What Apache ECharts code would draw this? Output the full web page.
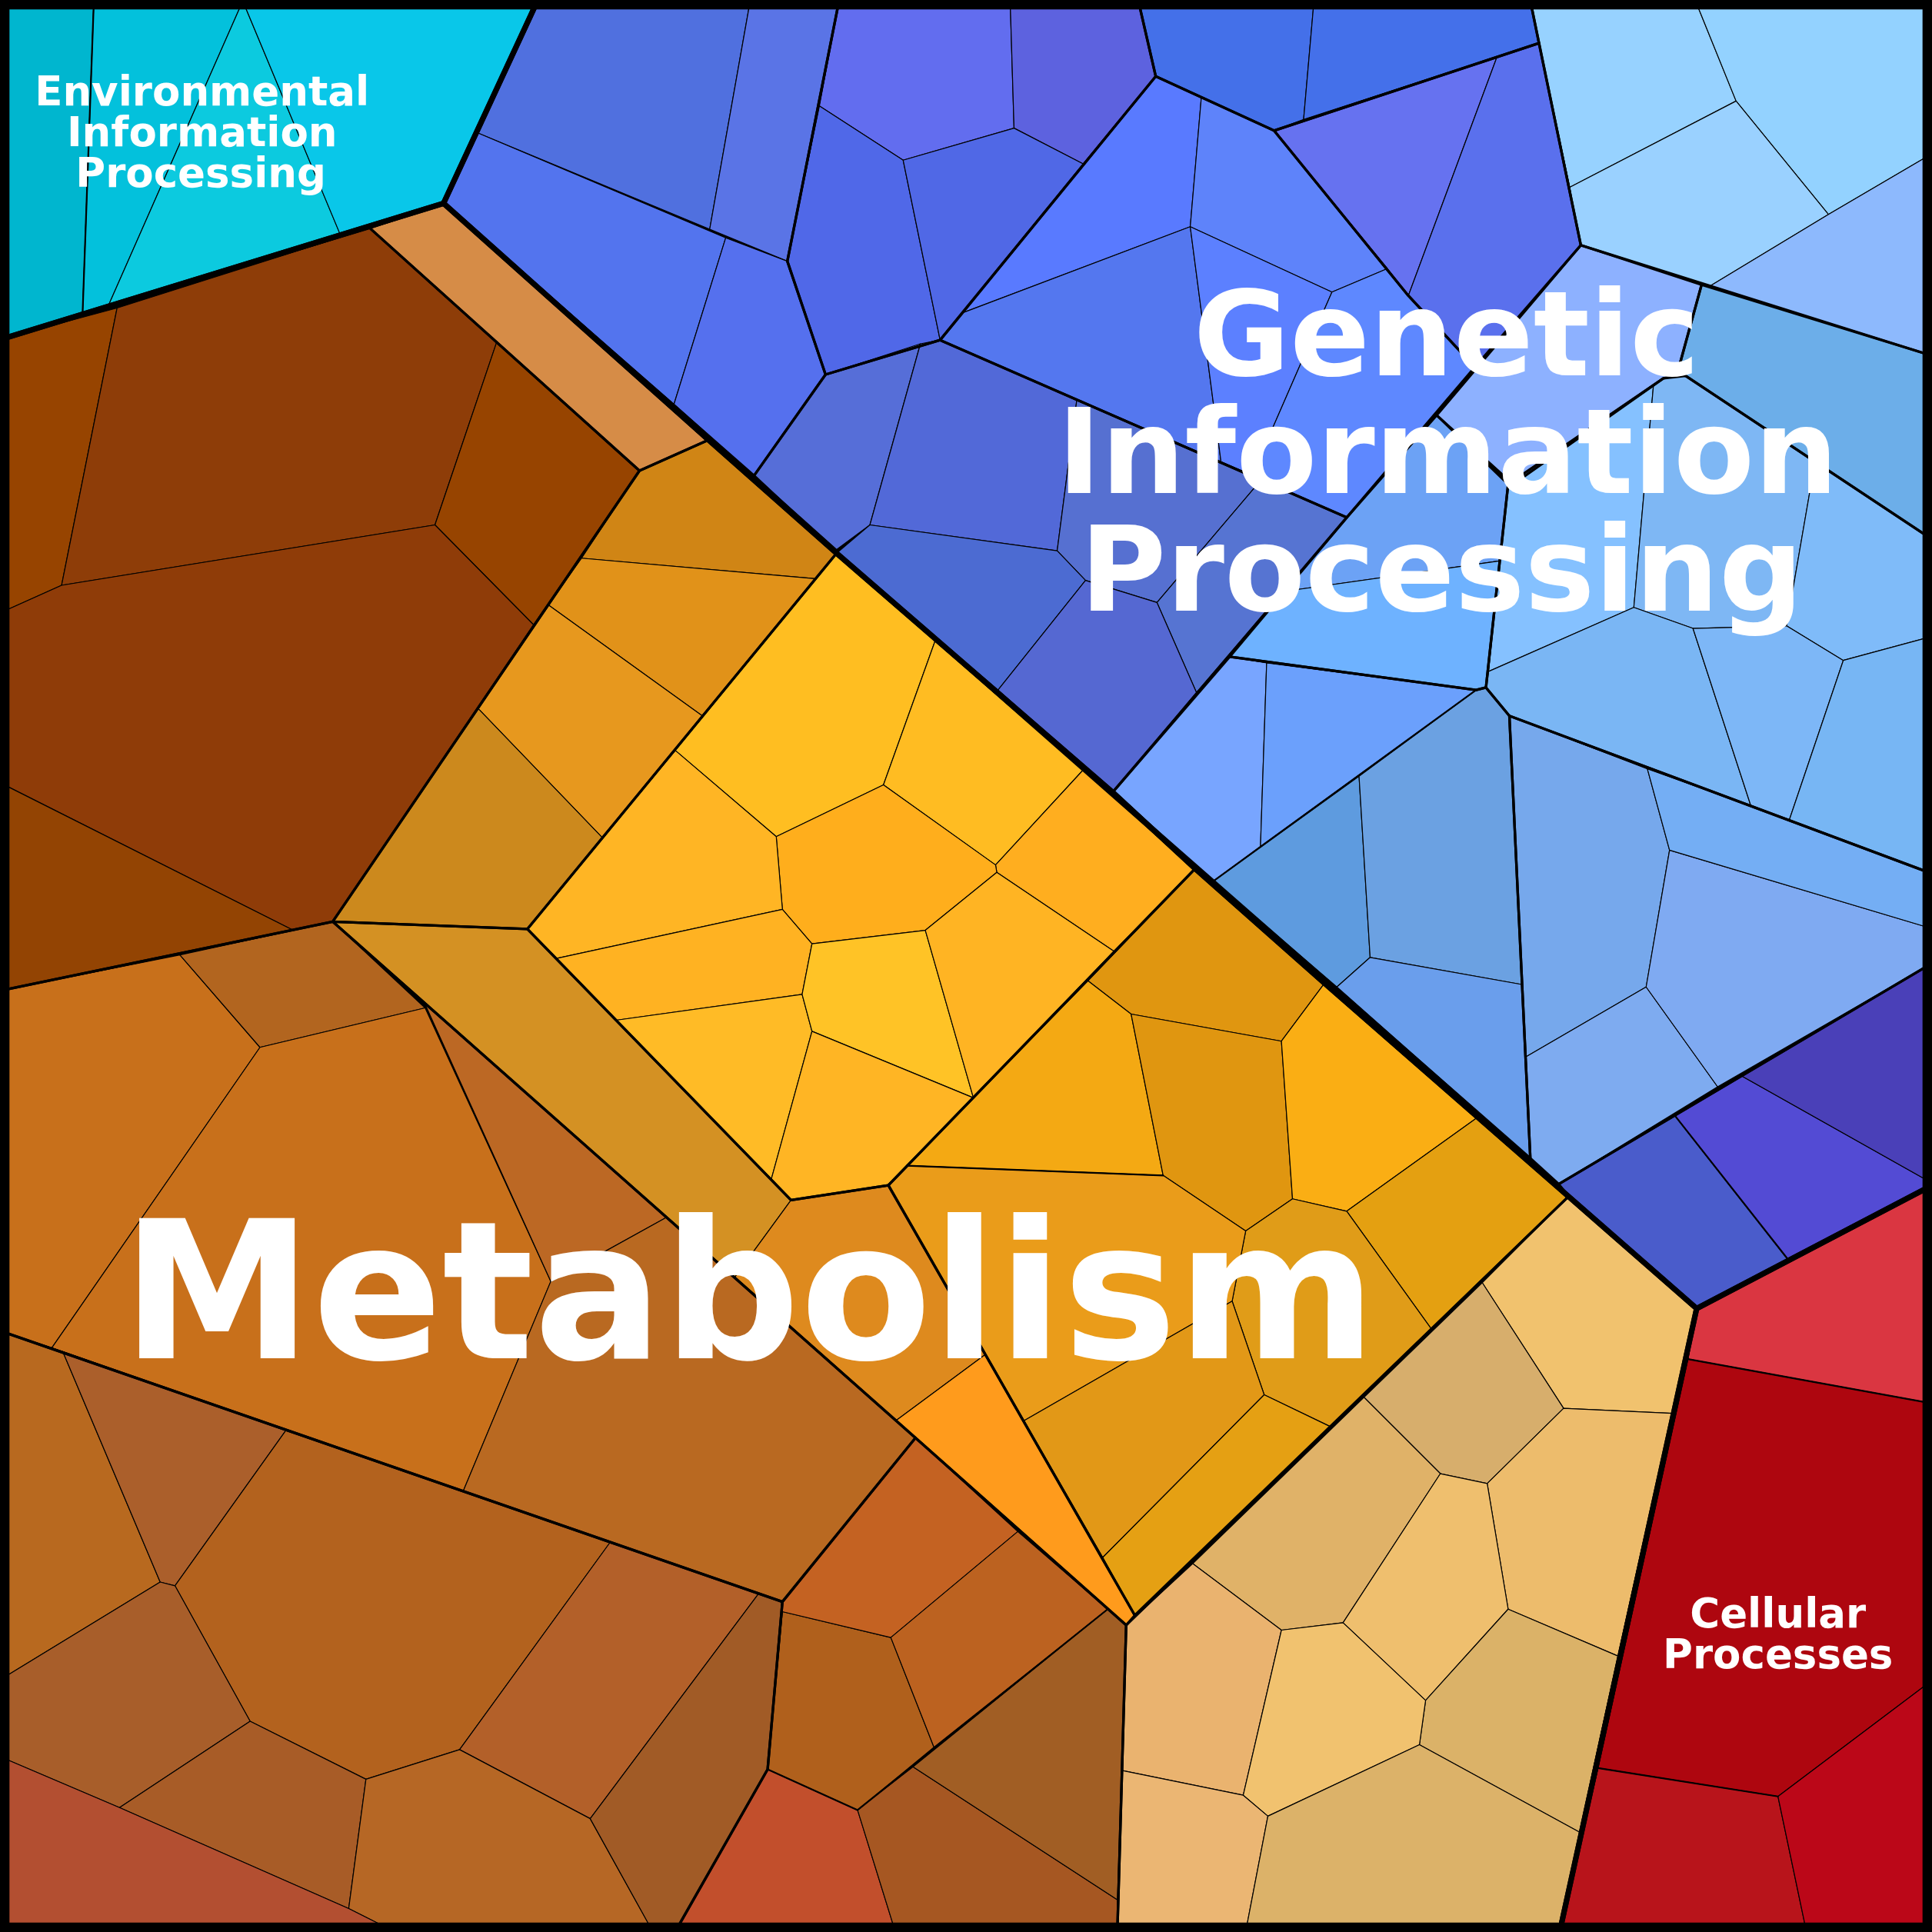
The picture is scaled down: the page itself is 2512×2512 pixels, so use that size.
<!DOCTYPE html>
<html><head><meta charset="utf-8">
<style>html,body{margin:0;padding:0;background:#000}#c{width:2512px;height:2512px}</style>
<script src="https://cdn.jsdelivr.net/npm/echarts@6/dist/echarts.min.js"></script>
</head><body><div id="c"></div>
<script>
const environmentalCells = [
 ['#00B6CF',[[8,8],[76,8],[67,255],[8,274]]],
 ['#03C1DC',[[76,8],[195,8],[88,248],[67,255]]],
 ['#0CCADF',[[195,8],[199,8],[276,190],[88,248]]],
 ['#09C7E9',[[199,8],[434,8],[360,165],[276,190]]]
];
const brownCells = [
 ['#974400',[[8,274],[95,250],[50,475],[8,495]]],
 ['#8E3D08',[[95,250],[300,185],[403,278],[353,426],[50,475]]],
 ['#974400',[[403,278],[519,382],[433,507],[353,426]]],
 ['#8F3C08',[[8,495],[50,475],[353,426],[433,507],[270,748],[238,755],[8,638]]],
 ['#934403',[[8,638],[238,755],[8,803]]],
 ['#D68C47',[[300,185],[360,165],[575,357],[519,382]]]
];
const goldRingCells = [
 ['#D08515',[[575,357],[679,449],[665,470],[472,453],[519,382]]],
 ['#E19219',[[472,453],[665,470],[570,581],[445,491]]],
 ['#E7981E',[[445,491],[570,581],[489,680],[388,575]]],
 ['#CC891D',[[388,575],[489,680],[428,754],[270,748]]],
 ['#D49123',[[270,748],[428,754],[642,974],[596,1037]]],
 ['#DE8A1E',[[642,974],[721,962],[800,1099],[727,1153],[596,1037]]],
 ['#FF9B1C',[[727,1153],[800,1099],[921,1311],[914,1319],[743,1167]]]
];
const yellowCells = [
 ['#FFBE21',[[679,449],[759,520],[717,637],[630,679],[548,609]]],
 ['#FFBC22',[[759,520],[879,625],[808,702],[717,637]]],
 ['#FFAE1F',[[879,625],[970,705],[904,772],[809,708],[808,702]]],
 ['#FFAE1C',[[630,679],[717,637],[808,702],[809,708],[751,755],[659,766],[635,738]]],
 ['#FFB524',[[548,609],[630,679],[635,738],[451,778],[428,754]]],
 ['#FFB222',[[451,778],[635,738],[659,766],[651,807],[500,828]]],
 ['#FFBB26',[[500,828],[651,807],[659,837],[626,957]]],
 ['#FFC326',[[659,766],[751,755],[790,891],[659,837],[651,807]]],
 ['#FFB423',[[751,755],[809,708],[904,772],[790,891]]],
 ['#FFB524',[[659,837],[790,891],[720,962],[642,974],[626,957]]]
];
const goldRightCells = [
 ['#E09610',[[970,705],[1075,798],[1040,845],[918,823],[883,796]]],
 ['#F4A913',[[883,796],[918,823],[944,954],[736,946]]],
 ['#E09610',[[918,823],[1040,845],[1049,973],[1011,999],[944,954]]],
 ['#FAAE14',[[1075,798],[1199,907],[1093,983],[1049,973],[1040,845]]],
 ['#E4A011',[[1199,907],[1273,971],[1162,1079],[1093,983]]],
 ['#E09C18',[[1011,999],[1049,973],[1093,983],[1162,1079],[1080,1158],[1026,1132],[1000,1056]]],
 ['#EA9C1A',[[721,962],[736,946],[944,954],[1011,999],[1000,1056],[831,1153]]],
 ['#E29817',[[831,1153],[1000,1056],[1026,1132],[895,1264]]],
 ['#E5A013',[[1026,1132],[1080,1158],[921,1311],[895,1264]]]
];
const lowerBrownCells = [
 ['#C8701B',[[8,803],[146,775],[211,850],[42,1094],[8,1082]]],
 ['#B2651F',[[146,775],[270,748],[345,818],[211,850]]],
 ['#C8701B',[[211,850],[345,818],[447,1040],[376,1210],[42,1094]]],
 ['#BC6824',[[345,815],[541,988],[447,1040]]],
 ['#B96921',[[447,1040],[541,988],[743,1167],[635,1300],[376,1210]]],
 ['#B8691F',[[8,1082],[51,1097],[130,1284],[8,1360]]],
 ['#AB5F2B',[[51,1097],[232,1161],[142,1287],[130,1284]]],
 ['#B3621E',[[232,1161],[495,1252],[373,1420],[297,1444],[203,1397],[142,1287]]],
 ['#B36029',[[495,1252],[616,1293],[479,1476],[373,1420]]],
 ['#A85E2A',[[8,1360],[130,1284],[142,1287],[203,1397],[97,1467],[8,1428]]],
 ['#A85C27',[[97,1467],[203,1397],[297,1444],[283,1549]]],
 ['#B66725',[[297,1444],[373,1420],[479,1476],[527,1560],[310,1560],[283,1549]]],
 ['#A15B26',[[616,1293],[635,1300],[623,1436],[551,1560],[527,1560],[479,1476]]],
 ['#B34F31',[[8,1428],[97,1467],[283,1549],[310,1560],[8,1560]]],
 ['#C24F2C',[[623,1436],[696,1469],[725,1560],[551,1560]]],
 ['#A65722',[[696,1469],[741,1434],[907,1542],[907,1560],[725,1560]]],
 ['#A15E24',[[741,1434],[899,1306],[914,1319],[907,1542]]],
 ['#B0601C',[[635,1308],[723,1329],[758,1418],[696,1469],[623,1436]]],
 ['#C46222',[[743,1167],[826,1243],[723,1329],[635,1308],[635,1300]]],
 ['#BC6220',[[826,1243],[899,1306],[758,1418],[723,1329]]]
];
const tanCells = [
 ['#F1C26E',[[1273,971],[1377,1062],[1357,1147],[1269,1143],[1203,1041]]],
 ['#D7AE6C',[[1203,1041],[1269,1143],[1207,1204],[1169,1196],[1107,1134]]],
 ['#EDBC6C',[[1269,1143],[1357,1147],[1313,1344],[1224,1306],[1207,1204]]],
 ['#E0B268',[[1107,1134],[1169,1196],[1090,1317],[1040,1323],[968,1269]]],
 ['#EFBF6E',[[1169,1196],[1207,1204],[1224,1306],[1157,1380],[1090,1317]]],
 ['#DBB268',[[1224,1306],[1313,1344],[1282,1487],[1152,1416],[1157,1380]]],
 ['#EAB36F',[[968,1269],[1040,1323],[1009,1457],[911,1437],[914,1319]]],
 ['#F1C26F',[[1040,1323],[1090,1317],[1157,1380],[1152,1416],[1029,1474],[1009,1457]]],
 ['#EBB673',[[911,1437],[1009,1457],[1029,1474],[1012,1560],[907,1560]]],
 ['#DCB269',[[1029,1474],[1152,1416],[1282,1487],[1267,1560],[1012,1560]]]
];
const cellularCells = [
 ['#DA3641',[[1377,1062],[1562,965],[1562,1138],[1370,1103]]],
 ['#AE060F',[[1370,1103],[1562,1138],[1562,1368],[1443,1458],[1297,1435]]],
 ['#B8141B',[[1297,1435],[1443,1458],[1465,1560],[1267,1560]]],
 ['#BB0718',[[1443,1458],[1562,1368],[1562,1560],[1465,1560]]]
];
const geneticTopCells = [
 ['#5070DF',[[434,8],[608,8],[576,186],[388,108]]],
 ['#5A74E6',[[608,8],[680,8],[639,212],[576,186]]],
 ['#5374EE',[[388,108],[589,193],[547,328],[360,165]]],
 ['#5570EE',[[589,193],[639,212],[670,304],[612,386],[547,328]]],
 ['#626DEF',[[680,8],[820,8],[823,104],[733,130],[665,86]]],
 ['#5D62DF',[[820,8],[925,8],[938,62],[879,133],[823,104]]],
 ['#5068E8',[[665,86],[733,130],[763,276],[670,304],[639,212]]],
 ['#5068E6',[[733,130],[823,104],[879,133],[763,276]]],
 ['#4470E9',[[925,8],[1066,8],[1058,97],[1034,106],[938,62]]],
 ['#4470EA',[[1066,8],[1243,8],[1249,35],[1058,97]]],
 ['#97D2FF',[[1243,8],[1378,8],[1409,82],[1274,152]]],
 ['#93D2FF',[[1378,8],[1562,8],[1562,128],[1484,174],[1409,82]]],
 ['#9AD1FF',[[1274,152],[1409,82],[1484,174],[1388,232],[1282,199]]],
 ['#8DB9FD',[[1388,232],[1484,174],[1562,128],[1562,287]]],
 ['#6672F0',[[1034,106],[1215,46],[1143,240]]],
 ['#5A70ED',[[1215,46],[1249,35],[1283,199],[1197,298],[1143,240]]]
];
const geneticMidCells = [
 ['#597AFF',[[938,62],[975,79],[966,184],[781,254]]],
 ['#5E83FA',[[975,79],[1034,106],[1126,218],[1081,237],[966,184]]],
 ['#5477EF',[[763,276],[781,254],[966,184],[991,375]]],
 ['#5C80FF',[[966,184],[1081,237],[1016,386],[991,375]]],
 ['#5E88FF',[[1081,237],[1126,218],[1143,240],[1197,298],[1093,420],[1016,386]]],
 ['#566ED8',[[670,304],[747,279],[706,426],[679,446],[612,386]]],
 ['#5269D8',[[747,279],[763,276],[874,324],[858,447],[706,426]]],
 ['#5670D1',[[874,324],[1024,389],[939,489],[881,471],[858,447]]],
 ['#5674D2',[[1024,389],[1093,420],[971,562],[939,489]]],
 ['#4C6BD2',[[706,426],[858,447],[881,471],[810,560],[679,449]]],
 ['#5568D2',[[881,471],[939,489],[971,562],[903,643],[810,560]]],
 ['#8DB1FF',[[1283,199],[1381,231],[1361,304],[1350,307],[1228,393],[1166,337]]],
 ['#6CA2F5',[[1093,420],[1166,337],[1224,393],[1219,455],[1042,480]]],
 ['#6EB2FF',[[1042,480],[1219,455],[1206,558],[1198,560],[998,533]]],
 ['#6CAEE9',[[1381,231],[1562,287],[1562,434],[1368,305],[1361,304]]]
];
const geneticLowCells = [
 ['#85C1FF',[[1224,393],[1342,312],[1326,493],[1208,545]]],
 ['#7EB7F4',[[1342,312],[1350,307],[1368,305],[1473,375],[1450,508],[1374,510],[1326,493]]],
 ['#7FBBF9',[[1473,375],[1562,434],[1562,518],[1496,536],[1450,508]]],
 ['#7AB6F4',[[1208,545],[1326,493],[1374,510],[1421,654],[1225,581],[1206,558]]],
 ['#7DB7F7',[[1374,510],[1450,508],[1496,536],[1452,666],[1421,654]]],
 ['#77B6F4',[[1496,536],[1562,518],[1562,707],[1452,666]]],
 ['#78A5FF',[[998,533],[1028,538],[1023,687],[985,715],[903,643]]],
 ['#6BA0FC',[[1028,538],[1198,560],[1023,687]]],
 ['#5E9BDF',[[985,715],[1103,630],[1112,777],[1085,801]]],
 ['#6BA1E2',[[1103,630],[1198,560],[1206,558],[1225,581],[1235,799],[1112,777]]],
 ['#6A9EEC',[[1112,777],[1235,799],[1242,940],[1085,801]]],
 ['#76A8EC',[[1225,581],[1337,624],[1355,690],[1336,801],[1238,858]]],
 ['#7EABF0',[[1238,858],[1336,801],[1394,882],[1265,961],[1242,940]]],
 ['#7FAAF2',[[1355,690],[1562,752],[1562,785],[1394,882],[1336,801]]],
 ['#74AEF4',[[1337,624],[1421,654],[1452,666],[1562,707],[1562,752],[1355,690]]],
 ['#4A5CCB',[[1265,961],[1359,905],[1451,1022],[1377,1062],[1273,971]]],
 ['#534BD4',[[1359,905],[1413,873],[1562,957],[1562,965],[1451,1022]]],
 ['#4A40B8',[[1413,873],[1562,785],[1562,957]]]
];
const subPolylines = [
 [[76,8],[67,255]],
 [[736,946],[944,954]],
 [[985,715],[1198,560]],
 [[1562,1138],[1370,1103]],
 [[1359,905],[1451,1022]],
 [[696,1469],[899,1306]],
 [[623,1436],[696,1469]],
 [[1297,1435],[1443,1458]]
];
const groupOutlines = [
 [[8,274],[300,185],[519,382],[270,748],[8,803]],
 [[300,185],[360,165],[575,357],[519,382]],
 [[519,382],[575,357],[679,449],[428,754],[270,748]],
 [[270,748],[428,754],[642,974],[721,962],[921,1311],[914,1319],[743,1167]],
 [[679,449],[970,705],[721,962],[642,974],[428,754]],
 [[970,705],[1273,971],[921,1311],[721,962]],
 [[270,748],[743,1167],[635,1300],[8,1082],[8,803]],
 [[8,1082],[635,1300],[623,1436],[551,1560],[8,1560]],
 [[743,1167],[914,1319],[907,1560],[551,1560],[623,1436],[635,1300]],
 [[1273,971],[1377,1062],[1267,1560],[907,1560],[914,1319]],
 [[434,8],[680,8],[639,212],[670,304],[612,386],[360,165]],
 [[680,8],[925,8],[938,62],[763,276],[670,304],[639,212]],
 [[925,8],[1243,8],[1249,35],[1034,106],[938,62]],
 [[1243,8],[1562,8],[1562,287],[1283,199]],
 [[938,62],[1034,106],[1143,240],[1197,298],[1093,420],[763,276]],
 [[1034,106],[1249,35],[1283,199],[1197,298],[1143,240]],
 [[763,276],[1093,420],[903,643],[679,449],[612,386],[670,304]],
 [[1283,199],[1381,231],[1361,304],[1350,307],[1228,393],[1166,337]],
 [[1166,337],[1224,393],[1206,558],[1198,560],[998,533],[1093,420]],
 [[1381,231],[1562,287],[1562,434],[1368,305],[1361,304]],
 [[1224,393],[1350,307],[1368,305],[1562,434],[1562,707],[1225,581],[1206,558]],
 [[998,533],[1198,560],[1206,558],[1225,581],[1242,940],[903,643]],
 [[1225,581],[1562,707],[1562,785],[1265,961],[1242,940]],
 [[1265,961],[1562,785],[1562,965],[1377,1062],[1273,971]]
];
const topOutlines = [
 [[8,274],[360,165],[434,8],[8,8]],
 [[360,165],[575,357],[679,449],[903,643],[970,705],[1075,798],[1273,971],[1377,1062],[1267,1560],[8,1560],[8,274]],
 [[434,8],[1562,8],[1562,965],[1377,1062],[1273,971],[1075,798],[970,705],[903,643],[679,449],[575,357],[360,165]],
 [[1562,965],[1377,1062],[1267,1560],[1562,1560]]
];
const frameOutline = [[[3.75,3.75],[1564.25,3.75],[1564.25,1564.25],[3.75,1564.25]]];
const labelLines = [
 ['Environmental',164,77,53],['Information',164,110,53],['Processing',163,143,53],
 ['Genetic',1174,280,153],['Information',1175,375,153],['Processing',1170,471,153],
 ['Cellular',1443,1312,53],['Processes',1443,1345,53],
 ['Metabolism',608,1062,249]
];

const allCells = [].concat(environmentalCells, brownCells, goldRingCells, yellowCells, goldRightCells,
  lowerBrownCells, tanCells, cellularCells, geneticTopCells, geneticMidCells, geneticLowCells);

// Vertices read as lying on the outer edge are pushed under the black frame.
function toFrame(v) { return v === 8 ? 5.5 : (v === 1560 || v === 1562) ? 1562.5 : v; }
function polySeries(items, getPts, getFill, width, open) {
  return {
    type: 'custom', coordinateSystem: 'cartesian2d', clip: false, silent: true, animation: false,
    data: items.map((_, i) => [i]),
    renderItem: function (params, api) {
      const it = items[api.value(0)];
      const pts = getPts(it).map(p => api.coord([toFrame(p[0]), toFrame(p[1])]));
      const fill = getFill(it);
      return {
        type: open ? 'polyline' : 'polygon',
        shape: { points: pts },
        style: { fill: fill || 'none', stroke: '#000', lineWidth: width, lineJoin: 'round', lineCap: 'round' }
      };
    }
  };
}
const chart = echarts.init(document.getElementById('c'), null, { width: 2512, height: 2512, renderer: 'canvas' });
chart.setOption({
  animation: false,
  backgroundColor: '#000',
  grid: { left: 0, right: 0, top: 0, bottom: 0 },
  xAxis: { type: 'value', min: 0, max: 1568, show: false },
  yAxis: { type: 'value', min: 0, max: 1568, inverse: true, show: false },
  series: [
    polySeries(allCells, c => c[1], c => c[0], 1.2),
    polySeries(subPolylines, c => c, () => null, 2.2, true),
    polySeries(groupOutlines, c => c, () => null, 3.3),
    polySeries(topOutlines, c => c, () => null, 7),
    {
      type: 'custom', coordinateSystem: 'cartesian2d', clip: false, silent: true, animation: false,
      data: [[0]],
      renderItem: function (params, api) {
        return { type: 'polygon', shape: { points: frameOutline[0].map(p => api.coord(p)) },
          style: { fill: 'none', stroke: '#000', lineWidth: 12, lineJoin: 'miter' } };
      }
    },
    {
      type: 'scatter', symbolSize: 0, silent: true, animation: false, z: 10, itemStyle: { opacity: 1 },
      data: labelLines.map(l => ({
        value: [l[1], l[2]],
        itemStyle: { opacity: 1 },
        label: {
          show: true, position: 'inside', formatter: l[0], align: 'center', verticalAlign: 'middle', opacity: 1,
          fontFamily: 'DejaVu Sans', fontWeight: 'bold', fontSize: l[3], color: '#fff',
          textShadowColor: '#000', textShadowBlur: 0, textShadowOffsetX: 1.2, textShadowOffsetY: 1.5
        }
      }))
    }
  ]
});
</script></body></html>
